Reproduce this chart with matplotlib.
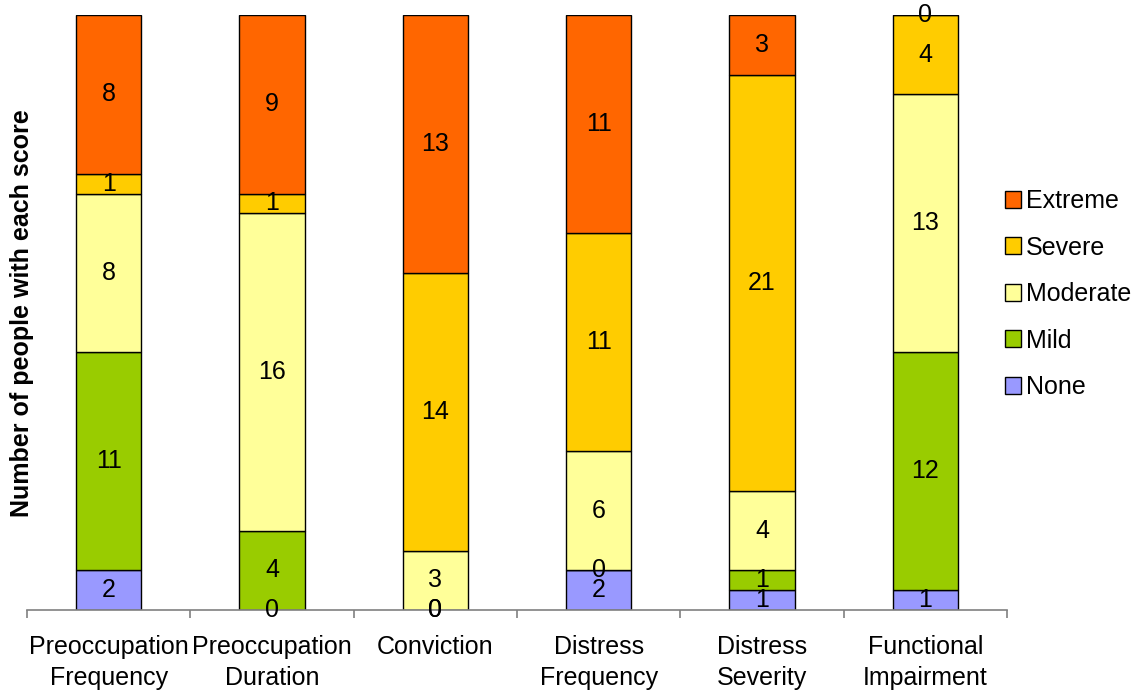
import matplotlib
matplotlib.use("Agg")
import matplotlib.pyplot as plt
import numpy as np

plt.rcParams['font.family'] = ['Liberation Sans', 'DejaVu Sans']

categories = ["Preoccupation\nFrequency", "Preoccupation\nDuration", "Conviction",
              "Distress\nFrequency", "Distress\nSeverity", "Functional\nImpairment"]
levels = ["None", "Mild", "Moderate", "Severe", "Extreme"]
none_counts = [2, 0, 0, 2, 1, 1]
mild_counts = [11, 4, 0, 0, 1, 12]
moderate_counts = [8, 16, 3, 6, 4, 13]
severe_counts = [1, 1, 14, 11, 21, 4]
extreme_counts = [8, 9, 13, 11, 3, 0]
colors = ["#9999FF", "#99CC00", "#FFFF99", "#FFCC00", "#FF6600"]

series = [none_counts, mild_counts, moderate_counts, severe_counts, extreme_counts]

fig = plt.figure(figsize=(11.39, 6.92), dpi=100)
ax = fig.add_axes([27 / 1139, 82 / 692, 980 / 1139, 595 / 692])

x = np.arange(len(categories))
bottom = np.zeros(len(categories))
bars = []
for name, vals, col in zip(levels, series, colors):
    b = ax.bar(x, vals, width=0.4, bottom=bottom, color=col, edgecolor="black",
               linewidth=1.0, label=name)
    ax.bar_label(b, label_type="center", fontsize=18, clip_on=False)
    bars.append(b)
    bottom += np.array(vals)

ax.set_xlim(-0.5, 5.5)
ax.set_ylim(0, 30)
ax.set_yticks([])
for s in ["left", "top", "right"]:
    ax.spines[s].set_visible(False)
ax.spines["bottom"].set_color("#808080")
ax.spines["bottom"].set_linewidth(1.2)

ax.set_xticks(x)
ax.set_xticklabels(categories, fontsize=18, linespacing=1.35)
ax.tick_params(axis="x", which="major", length=0, pad=18)
ax.set_xticks(np.arange(-0.5, 6.0, 1.0), minor=True)
ax.tick_params(axis="x", which="minor", length=6, width=1.2, color="#808080")

fig.text(22 / 1139, 1 - 313 / 692, "Number of people with each score", rotation=90,
         ha="center", va="center", fontsize=18, fontweight="bold")

handles = bars[::-1]
ax.legend(handles, levels[::-1], loc="center left", bbox_to_anchor=(0.975, 0.531),
          frameon=False, fontsize=18, handlelength=0.65, handleheight=0.65,
          handletextpad=0.2, labelspacing=0.9)

fig.savefig("out.png", dpi=100)
